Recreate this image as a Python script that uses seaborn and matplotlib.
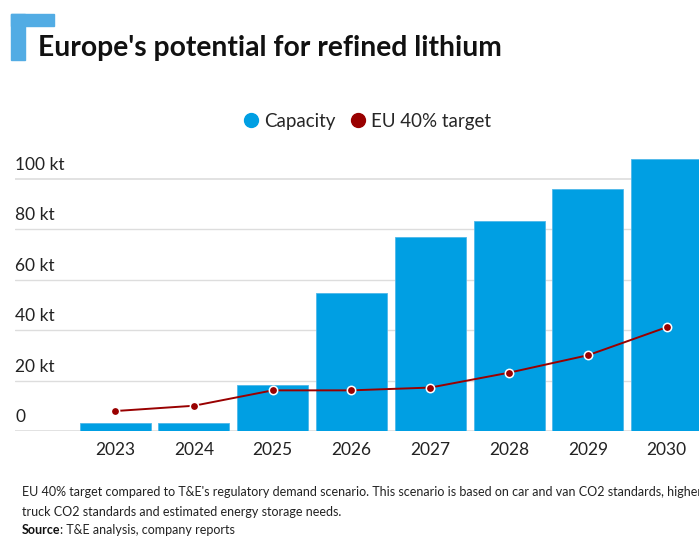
import matplotlib
matplotlib.use("Agg")
import matplotlib.pyplot as plt
import seaborn as sns
import pandas as pd
from matplotlib.lines import Line2D
from matplotlib.patches import Rectangle

years = ["2023", "2024", "2025", "2026", "2027", "2028", "2029", "2030"]
capacity = [3.0, 3.0, 18.2, 54.8, 76.7, 83.0, 95.7, 107.8]
eu_target = [7.9, 10.0, 16.1, 16.1, 17.2, 23.1, 30.0, 41.1]
y_ticks = [0, 20, 40, 60, 80, 100]
y_tick_labels = ["0", "20 kt", "40 kt", "60 kt", "80 kt", "100 kt"]

title = "Europe's potential for refined lithium"
legend_labels = ["Capacity", "EU 40% target"]
note_lines = [
    "EU 40% target compared to T&E's regulatory demand scenario. This scenario is based on car and van CO2 standards, higher",
    "truck CO2 standards and estimated energy storage needs.",
]

BLUE = "#009fe3"
RED = "#990000"
FONT = ["Lato", "DejaVu Sans"]

df = pd.DataFrame({"year": years, "capacity": capacity, "target": eu_target})

sns.set_style("white")
plt.rcParams["font.family"] = FONT

W, H = 699, 536
fig = plt.figure(figsize=(W / 100, H / 100), dpi=100)

# axes: left at px 15, right at px 699; y=0 at px 431, y=110 at px 153.25
ax_left = 15 / W
ax_bottom = (H - 431) / H
ax_top = (H - 153.25) / H
ax = fig.add_axes([ax_left, ax_bottom, 1 - ax_left, ax_top - ax_bottom])

sns.barplot(data=df, x="year", y="capacity", color=BLUE, saturation=1,
            width=0.9, ax=ax, zorder=2, edgecolor="#4fb8ea", linewidth=0.6)
sns.pointplot(data=df, x="year", y="target", color=RED, markers="o",
              ax=ax, linewidth=1.4, markersize=6,
              markeredgecolor="white", markeredgewidth=1.1)
for c in ax.lines:
    c.set_zorder(4)
    c.set_clip_on(False)

ax.set_xlim(-1.27, 7.41)
ax.set_ylim(0, 110)
ax.set_yticks(y_ticks)
ax.set_yticklabels([])
ax.tick_params(axis="y", length=0)
ax.tick_params(axis="x", length=0, pad=8, labelsize=12.5, labelcolor="#222222")
for yv in y_ticks:
    ax.axhline(yv, color="#dddddd", lw=1.2 if yv in (0, 100) else 1.0, zorder=1)
for yv, lab in zip(y_ticks, y_tick_labels):
    ax.text(0, yv + 2.3, lab, transform=ax.get_yaxis_transform(),
            ha="left", va="bottom", fontsize=12.5, color="#222222")
ax.set_xlabel("")
ax.set_ylabel("")
for s in ax.spines.values():
    s.set_visible(False)

# title and icon
fig.text(38 / W, 1 - 48 / H, title, fontsize=20.3, fontweight="bold",
         ha="left", va="center", color="#111111")
fig.patches.append(Rectangle((11 / W, 1 - 26 / H), 43 / W, 12 / H,
                             transform=fig.transFigure, color="#52ace4"))
fig.patches.append(Rectangle((11 / W, 1 - 60 / H), 14 / W, 46 / H,
                             transform=fig.transFigure, color="#52ace4"))

# legend
handles = [
    Line2D([], [], marker="o", color="none", markerfacecolor=BLUE, markeredgecolor=BLUE, markersize=10),
    Line2D([], [], marker="o", color="none", markerfacecolor=RED, markeredgecolor=RED, markersize=10),
]
fig.legend(handles, legend_labels, loc="center", bbox_to_anchor=(365 / W, 1 - 121 / H),
           ncol=2, frameon=False, fontsize=13.5, handletextpad=0.1, columnspacing=0.6,
           handlelength=1.2)

# notes
fig.text(22 / W, 1 - 492 / H, note_lines[0], fontsize=9, ha="left", va="center", color="#222222")
fig.text(22 / W, 1 - 512 / H, note_lines[1], fontsize=9, ha="left", va="center", color="#222222")
src = fig.text(22 / W, 1 - 530 / H, "Source", fontsize=9, fontweight="bold",
               ha="left", va="center", color="#111111")
renderer = fig.canvas.get_renderer()
bb = src.get_window_extent(renderer=renderer)
fig.text(bb.x1 / fig.bbox.width, 1 - 530 / H, ": T&E analysis, company reports",
         fontsize=9, ha="left", va="center", color="#222222")

fig.savefig("out.png", dpi=100)
